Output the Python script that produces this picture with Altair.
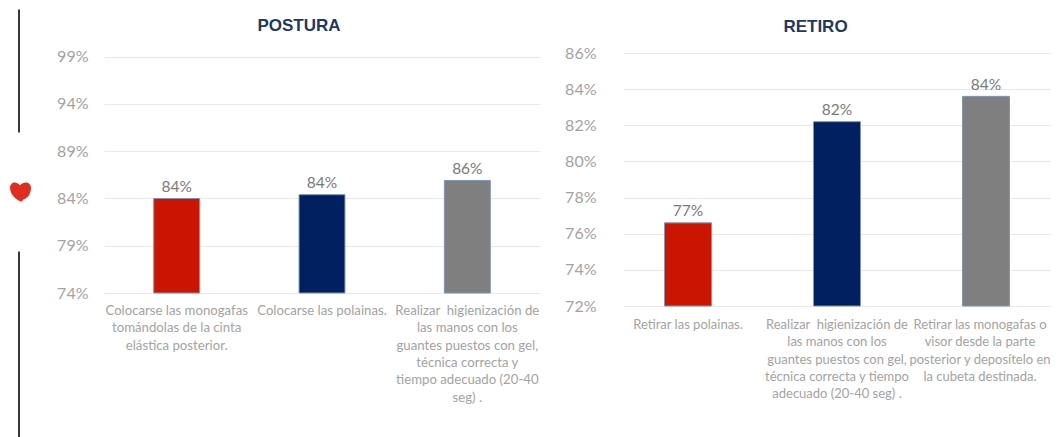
import altair as alt
import pandas as pd

FONT = "Lato"

post_cats = [
    "Colocarse las monogafas\ntomándolas de la cinta\nelástica posterior.",
    "Colocarse las polainas.",
    "Realizar\u00a0 higienización de\nlas manos con los\nguantes puestos con gel,\ntécnica correcta y\ntiempo adecuado (20-40\nseg) .",
]
post_vals = [0.840, 0.844, 0.859]
post_ticks = [0.74, 0.79, 0.84, 0.89, 0.94, 0.99]

ret_cats = [
    "Retirar las polainas.",
    "Realizar\u00a0 higienización de\nlas manos con los\nguantes puestos con gel,\ntécnica correcta y tiempo\nadecuado (20-40 seg) .",
    "Retirar las monogafas o\nvisor desde la parte\nposterior y depos\u00edtelo en\nla cubeta destinada.",
]
ret_vals = [0.766, 0.822, 0.836]
ret_ticks = [0.72, 0.74, 0.76, 0.78, 0.80, 0.82, 0.84, 0.86]

bar_colors = ["#cc1500", "#002060", "#7f7f7f"]
HEART = "M0,1 C-0.3,0.85 -1,0.45 -1,-0.3 C-1,-0.8 -0.45,-1 -0.05,-0.55 C0.35,-1 1,-0.85 1,-0.3 C1,0.35 0.6,0.75 0.25,0.8 C0.2,0.95 0.1,1 0,1 Z"


def panel(cats, vals, ticks, title, width, x_range, pad_i, pad_o, y_range, dom, base, dx, label_pad, title_offset, label_size):
    df = pd.DataFrame({"cat": cats, "val": vals, "base": base, "idx": [0, 1, 2]})
    x = alt.X(
        "cat:N", sort=None, title=None,
        scale=alt.Scale(paddingInner=pad_i, paddingOuter=pad_o, range=x_range),
        axis=alt.Axis(
            labelExpr="split(datum.value, '\\n')", labelAngle=0, labelAlign="center",
            labelBaseline="top", labelFont=FONT, labelFontSize=label_size, labelColor="#a3a3a3",
            labelLineHeight=17.3, labelPadding=label_pad, labelLimit=220, labelOverlap=False,
            labelFlush=False, domain=False, ticks=False, grid=False,
            labelOffset={"condition": {"test": "indexof(datum.value, 'Retirar las mono') == 0", "value": -6}, "value": 0},
        ),
    )
    y = alt.Y(
        "val:Q", title=None,
        scale=alt.Scale(domain=dom, range=y_range, nice=False, zero=False),
        axis=alt.Axis(
            values=ticks, format=".0%", labelFont=FONT, labelFontSize=16, labelColor="#a3a3a3",
            labelPadding=16, domain=False, ticks=False, grid=True, gridColor="#e8e8e8",
            gridWidth=1.2,
        ),
    )
    bars = alt.Chart(df).mark_bar(stroke="#7f95b8", strokeWidth=1).encode(
        x=x, y=y, y2=alt.Y2("base:Q"),
        color=alt.Color("idx:N", scale=alt.Scale(domain=[0, 1, 2], range=bar_colors), legend=None),
    )
    text = alt.Chart(df).mark_text(
        font=FONT, fontSize=15.5, color="#7a7a7a", baseline="bottom", dy=-3.5
    ).encode(x=x, y=y, text=alt.Text("val:Q", format=".0%"))
    return (bars + text).properties(
        width=width, height=253,
        title=alt.TitleParams(
            title, font="Liberation Sans", fontSize=17, fontWeight="bold", color="#1f3864",
            anchor="middle", dx=dx, offset=title_offset,
        ),
    )


one = alt.Data(values=[{"a": 1}])
line1 = alt.Chart(one).mark_rule(color="#222222", strokeWidth=1.8).encode(
    x=alt.value(11), y=alt.value(-43.5), y2=alt.value(79.5))
line2 = alt.Chart(one).mark_rule(color="#222222", strokeWidth=1.8).encode(
    x=alt.value(11), y=alt.value(198.5), y2=alt.value(386))
heart = alt.Chart(one).mark_point(shape=HEART, filled=True, fill="#e12d20", opacity=1, size=440).encode(
    x=alt.value(12.5), y=alt.value(138))
decor = (line1 + line2 + heart).properties(width=24, height=253)

left = panel(post_cats, post_vals, post_ticks, "POSTURA", 436, [0, 436], 0.684, 0.342, [240, 3.6], [0.74, 0.99], 0.74, -23, -1.5, 13.5, 13.2)
right = panel(ret_cats, ret_vals, ret_ticks, "RETIRO", 439, [11, 439], 0.6846, 0.2785, [253, 0], [0.72, 0.86], 0.72, -16, 12.5, 9.5, 13)

chart = (
    alt.hconcat(decor, left, right, spacing=72, bounds="flush")
    .resolve_scale(x="independent", y="independent", color="independent")
    .configure_view(stroke=None)
    .properties(padding=0, background="white")
)
chart.save("out.html", embed_options={"renderer": "svg", "actions": False})
